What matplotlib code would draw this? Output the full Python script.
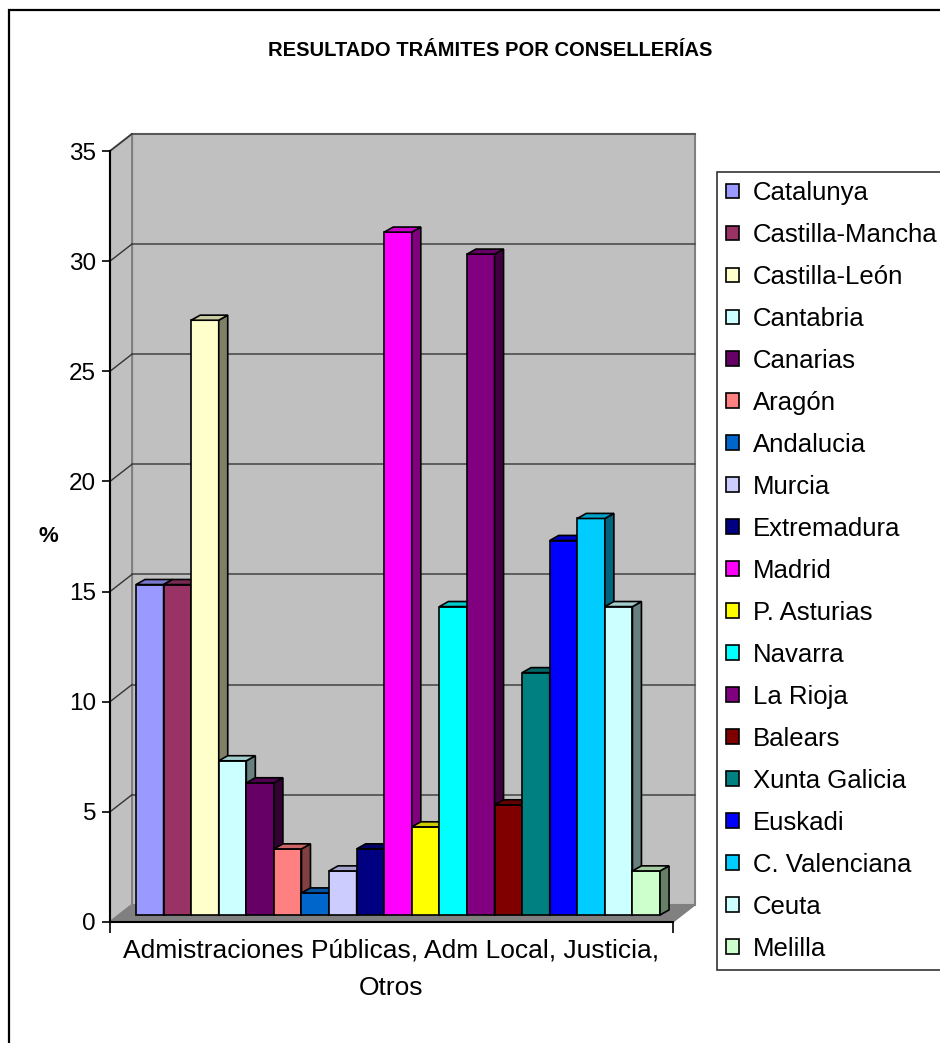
import matplotlib
matplotlib.use('Agg')
import matplotlib.pyplot as plt
from matplotlib.patches import Polygon, Patch, Rectangle
from matplotlib.colors import to_rgb

plt.rcParams['font.family'] = ['Liberation Sans', 'DejaVu Sans']

regiones = ['Catalunya', 'Castilla-Mancha', 'Castilla-León', 'Cantabria', 'Canarias',
            'Aragón', 'Andalucia', 'Murcia', 'Extremadura', 'Madrid', 'P. Asturias',
            'Navarra', 'La Rioja', 'Balears', 'Xunta Galicia', 'Euskadi',
            'C. Valenciana', 'Ceuta', 'Melilla']
valores = [15, 15, 27, 7, 6, 3, 1, 2, 3, 31, 4, 14, 30, 5, 11, 17, 18, 14, 2]
colores = ['#9999FF', '#993366', '#FFFFCC', '#CCFFFF', '#660066', '#FF8080', '#0066CC',
           '#CCCCFF', '#000080', '#FF00FF', '#FFFF00', '#00FFFF', '#800080', '#800000',
           '#008080', '#0000FF', '#00CCFF', '#CCFFFF', '#CCFFCC']
categoria = 'Admistraciones Públicas, Adm Local, Justicia,\nOtros'
yticks = [0, 5, 10, 15, 20, 25, 30, 35]

W, H = 940, 1043
fig = plt.figure(figsize=(W / 100, H / 100), dpi=100)
fig.patch.set_facecolor('white')

# outer chart border (runs off right/bottom)
fig.patches.append(Rectangle((9 / W, -0.1), 1.1, 1 - 10 / H + 0.1, transform=fig.transFigure,
                             fill=False, ec='black', lw=1.6))

ax = fig.add_axes([110 / W, (H - 922) / H, 563 / W, 771 / H])
x0, x1 = -0.943, 19.47
ax.set_xlim(x0, x1)
ax.set_ylim(0, 35)
ax.patch.set_visible(False)

wx, wy = 0.80, 0.78      # depth of walls
bx, by = 0.326, 0.23     # depth of bars
base = 0.318             # bars stand in the middle of the floor

def shade(c, f):
    r, g, b = to_rgb(c)
    return (r * f, g * f, b * f)

# walls and floor
ax.add_patch(Polygon([(x0 + wx, wy), (x1 + wx, wy), (x1 + wx, 35 + wy), (x0 + wx, 35 + wy)],
                     closed=True, fc='#C0C0C0', ec='#808080', lw=1.5, clip_on=False, zorder=1))
ax.add_patch(Polygon([(x0, 0), (x0 + wx, wy), (x0 + wx, 35 + wy), (x0, 35)],
                     closed=True, fc='#C0C0C0', ec='#808080', lw=1.5, clip_on=False, zorder=1))
ax.add_patch(Polygon([(x0, 0), (x1, 0), (x1 + wx, wy), (x0 + wx, wy)],
                     closed=True, fc='#808080', ec='#808080', lw=1, clip_on=False, zorder=1))
for t in yticks[1:]:
    ax.plot([x0 + wx, x1 + wx], [t + wy, t + wy], color='#555555', lw=1.3, clip_on=False, zorder=2)
    ax.plot([x0, x0 + wx], [t, t + wy], color='#333333', lw=1.0, clip_on=False, zorder=2)

# 3d bars
for i, (v, c) in enumerate(zip(valores, colores)):
    z = 3 + i
    top = v + base
    ax.add_patch(Polygon([(i, base), (i + 1, base), (i + 1, top), (i, top)], closed=True,
                         fc=c, ec='black', lw=1.2, clip_on=False, zorder=z, joinstyle='miter'))
    ax.add_patch(Polygon([(i + 1, base), (i + 1 + bx, base + by), (i + 1 + bx, top + by), (i + 1, top)],
                         closed=True, fc=shade(c, 0.5), ec='black', lw=1.2, clip_on=False, zorder=z))
    ax.add_patch(Polygon([(i, top), (i + 1, top), (i + 1 + bx, top + by), (i + bx, top + by)],
                         closed=True, fc=shade(c, 0.8), ec='black', lw=1.2, clip_on=False, zorder=z))

for s in ['top', 'right']:
    ax.spines[s].set_visible(False)
for s in ['left', 'bottom']:
    ax.spines[s].set_color('black')
    ax.spines[s].set_linewidth(1.5)
    ax.spines[s].set_zorder(30)

ax.set_yticks(yticks)
ax.tick_params(axis='y', length=6, width=1.2, labelsize=17.5, pad=4)
ax.set_xticks([(x0 + x1) / 2])
ax.set_xticklabels([categoria], fontsize=19, linespacing=1.72)
ax.tick_params(axis='x', which='major', length=0, pad=12)
ax.set_xticks([x0, x1], minor=True)
ax.tick_params(axis='x', which='minor', length=8, width=1.2)

fig.text(48 / W, 1 - 537 / H, '%', fontsize=16, fontweight='bold', ha='center', va='center')
fig.text(490 / W, 1 - 50 / H, 'RESULTADO TRÁMITES POR CONSELLERÍAS', fontsize=14.5,
         fontweight='bold', ha='center', va='center')

handles = [Patch(fc=c, ec='black', lw=1.2) for c in colores]
leg = fig.legend(handles, regiones, loc='upper left', mode='expand',
                 bbox_to_anchor=(717 / W, 1 - 972 / H, 300 / W, 800 / H),
                 fontsize=18.5, frameon=True, fancybox=False, shadow=False,
                 handlelength=0.5, handleheight=0.5, handletextpad=0.55,
                 labelspacing=0.7, borderpad=0.35, borderaxespad=0)
leg.get_frame().set_edgecolor('black')
leg.get_frame().set_linewidth(1.2)

fig.savefig('out.png', dpi=100)
